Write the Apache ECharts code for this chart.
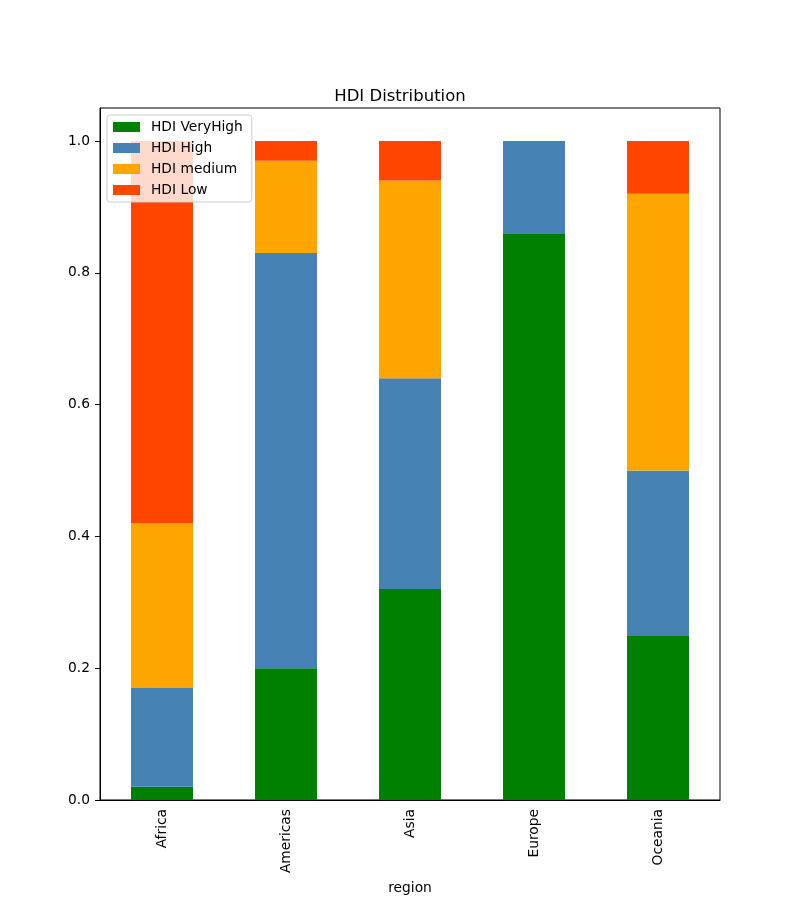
<!DOCTYPE html>
<html>
<head>
<meta charset="utf-8">
<script src="https://cdn.jsdelivr.net/npm/echarts@6/dist/echarts.min.js"></script>
<style>html,body{margin:0;padding:0;background:#fff}#c{width:800px;height:900px}</style>
</head>
<body>
<div id="c"></div>
<script>
const categories = ['Africa', 'Americas', 'Asia', 'Europe', 'Oceania'];
const hdiVeryHigh = [0.02, 0.20, 0.32, 0.86, 0.25];
const hdiHigh = [0.15, 0.63, 0.32, 0.14, 0.25];
const hdiMedium = [0.25, 0.14, 0.30, 0.00, 0.42];
const hdiLow = [0.58, 0.03, 0.06, 0.00, 0.08];
const yTicks = [0, 0.2, 0.4, 0.6, 0.8, 1.0];

const seriesDefs = [
  ['HDI VeryHigh', hdiVeryHigh, '#008000'],
  ['HDI High', hdiHigh, '#4682B4'],
  ['HDI medium', hdiMedium, '#FFA500'],
  ['HDI Low', hdiLow, '#FF4500']
];
const font = 'DejaVu Sans';
const chart = echarts.init(document.getElementById('c'), null, {renderer: 'canvas'});
chart.setOption({
  animation: false,
  backgroundColor: '#fff',
  title: {
    text: 'HDI Distribution', left: 'center', top: 83,
    textStyle: {fontFamily: font, fontSize: 16.5, fontWeight: 'normal', color: '#000'}
  },
  legend: {
    orient: 'vertical', left: 107, top: 115,
    icon: 'rect', itemWidth: 27, itemHeight: 10, itemGap: 7,
    padding: [5, 9, 5, 6],
    backgroundColor: 'rgba(255,255,255,0.8)',
    borderColor: '#cccccc', borderWidth: 1, borderRadius: 3,
    textStyle: {fontFamily: font, fontSize: 13.8, color: '#000', padding: [0, 0, 0, 6]},
    data: seriesDefs.map(s => s[0])
  },
  grid: {left: 100, right: 80, top: 108, bottom: 99, show: true, borderColor: '#000', borderWidth: 1, backgroundColor: 'transparent'},
  xAxis: {
    type: 'category', data: categories,
    name: 'region', nameLocation: 'middle', nameGap: 80,
    nameTextStyle: {fontFamily: font, fontSize: 13.8, color: '#000'},
    axisLine: {lineStyle: {color: '#000', width: 1}},
    axisTick: {alignWithLabel: true, length: 5, lineStyle: {color: '#000'}},
    axisLabel: {rotate: 90, margin: 9, fontFamily: font, fontSize: 13.8, color: '#000'},
    splitLine: {show: false}
  },
  yAxis: {
    type: 'value', min: 0, max: 1.05, interval: 0.2,
    axisLine: {show: true, lineStyle: {color: '#000', width: 1}},
    axisTick: {show: true, length: 5, lineStyle: {color: '#000'}, customValues: yTicks},
    axisLabel: {margin: 10, fontFamily: font, fontSize: 13.8, color: '#000', customValues: yTicks,
      formatter: v => v.toFixed(1)},
    splitLine: {show: false}
  },
  series: seriesDefs.map(s => ({
    name: s[0], type: 'bar', stack: 'total', data: s[1], barWidth: '50%',
    itemStyle: {color: s[2]}
  }))
});
</script>
</body>
</html>
